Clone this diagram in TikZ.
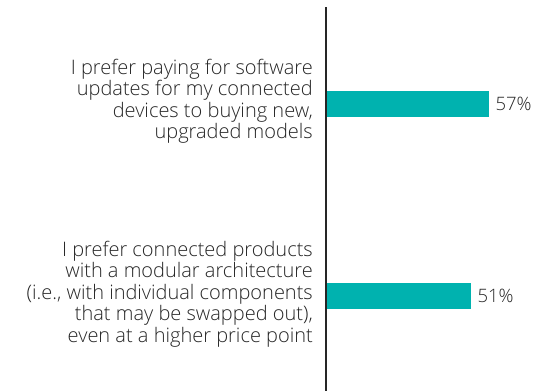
\documentclass[tikz,border=0pt]{standalone}
\usepackage{fontspec}
\IfFontExistsTF{Open Sans Light}{\setmainfont{Open Sans Light}}{\setmainfont{Open Sans}}
\definecolor{bartea}{HTML}{00B2AF}
\definecolor{txt}{HTML}{262626}
\begin{document}
\begin{tikzpicture}[x=1pt,y=-1pt,
  lbl/.style={anchor=east,align=right,text=txt,inner sep=0pt,font=\fontsize{20}{21.5}\selectfont},
  barbox/.style={fill=bartea,draw=none,anchor=west,inner sep=0pt,minimum height=26pt},
  pct/.style={anchor=west,text=txt,inner sep=0pt,font=\fontsize{18.5}{21.5}\selectfont}]
\useasboundingbox (0,0) rectangle (550,391);
\coordinate (axtop) at (326,7);
\coordinate (axbot) at (326,391);
\node[barbox,minimum width=163pt] (b1) at (326,104) {};
\node[barbox,minimum width=145pt] (b2) at (326,296) {};
\draw[line width=1.3pt,draw=txt] (axtop) -- (axbot);
\node[pct,xshift=6pt] (p1) at (b1.east) {57\%};
\node[pct,xshift=6pt] (p2) at (b2.east) {51\%};
\node[lbl] (l1) at (313,101) {I prefer paying for software\\updates for my connected\\devices to buying new,\\upgraded models};
\node[lbl] (l2) at (313,294) {I prefer connected products\\with a modular architecture\\(i.e., with individual components\\that may be swapped out),\\even at a higher price point};
\end{tikzpicture}
\end{document}
